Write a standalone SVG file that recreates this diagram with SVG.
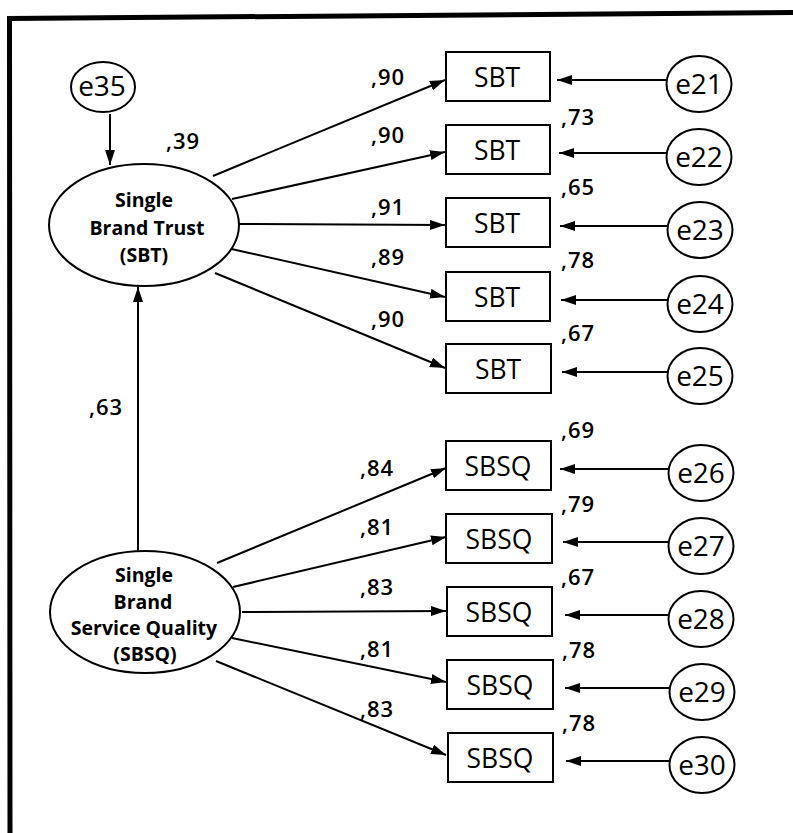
<svg xmlns="http://www.w3.org/2000/svg" width="793" height="833" viewBox="0 0 793 833">
<style>
text{font-family:"Open Sans","Noto Sans","DejaVu Sans",sans-serif;fill:#000}
.box{fill:#fff;stroke:#000;stroke-width:2}
.el{fill:#fff;stroke:#000;stroke-width:2}
.bt{font-size:26.5px;text-anchor:middle}
.et{font-size:28px;text-anchor:middle}
.lt{font-size:19.5px;font-weight:bold;text-anchor:middle}
.cf{font-size:22px;font-weight:600;letter-spacing:1px}
.ln{stroke:#000;stroke-width:2;fill:none;marker-end:url(#ah)}
.frame{stroke:#000;stroke-width:5;fill:none}
</style>
<defs>
<marker id="ah" markerUnits="userSpaceOnUse" markerWidth="16" markerHeight="11" refX="15" refY="5" orient="auto">
<path d="M0,0 L15,5 L0,10 Z" fill="#000"/>
</marker>
</defs>
<rect width="793" height="833" fill="#fff"/>
<g id="frame">
<path class="frame" d="M10,833 L9.5,18.5 L793,12.5"/>
</g>
<g id="connectors">
<line class="ln" x1="110" y1="114" x2="110" y2="165"/>
<line class="ln" x1="138" y1="552" x2="138" y2="287"/>
<line class="ln" x1="213" y1="176" x2="445" y2="80"/>
<line class="ln" x1="232" y1="199" x2="445" y2="152"/>
<line class="ln" x1="239" y1="224" x2="445" y2="225"/>
<line class="ln" x1="227" y1="248" x2="445" y2="297"/>
<line class="ln" x1="215" y1="273" x2="445" y2="368"/>
<line class="ln" x1="217" y1="563" x2="446" y2="468"/>
<line class="ln" x1="233" y1="587" x2="446" y2="537"/>
<line class="ln" x1="242" y1="612" x2="446" y2="611"/>
<line class="ln" x1="232" y1="638" x2="446" y2="682"/>
<line class="ln" x1="216" y1="661" x2="446" y2="755"/>
<line class="ln" x1="667" y1="80" x2="557" y2="80"/>
<line class="ln" x1="667" y1="153" x2="559" y2="153"/>
<line class="ln" x1="668" y1="226" x2="560" y2="226"/>
<line class="ln" x1="668" y1="300" x2="561" y2="300"/>
<line class="ln" x1="668" y1="372" x2="562" y2="372"/>
<line class="ln" x1="669" y1="469" x2="560" y2="469"/>
<line class="ln" x1="669" y1="542" x2="563" y2="542"/>
<line class="ln" x1="669" y1="615" x2="565" y2="615"/>
<line class="ln" x1="670" y1="688" x2="565" y2="688"/>
<line class="ln" x1="670" y1="761" x2="566" y2="761"/>
</g>
<g id="e35"><ellipse class="el" cx="103" cy="87" rx="32" ry="25"/><text class="et" x="102" y="96">e35</text></g>
<g id="SBT_latent">
<ellipse class="el" cx="144" cy="225" rx="95" ry="61"/>
<text class="lt" x="144" y="207">Single</text>
<text class="lt" x="147" y="235">Brand Trust</text>
<text class="lt" x="144" y="262">(SBT)</text>
</g>
<g id="SBSQ_latent">
<ellipse class="el" cx="145" cy="612" rx="95" ry="61"/>
<text class="lt" x="144" y="582">Single</text>
<text class="lt" x="143" y="609">Brand</text>
<text class="lt" x="144" y="635">Service Quality</text>
<text class="lt" x="145" y="661">(SBSQ)</text>
</g>
<g id="sbt1"><rect class="box" x="446" y="52" width="104" height="49"/><text class="bt" x="497" y="87">SBT</text></g>
<g id="sbt2"><rect class="box" x="446" y="125" width="104" height="49"/><text class="bt" x="497" y="160">SBT</text></g>
<g id="sbt3"><rect class="box" x="446" y="198" width="104" height="49"/><text class="bt" x="497" y="233">SBT</text></g>
<g id="sbt4"><rect class="box" x="446" y="272" width="104" height="49"/><text class="bt" x="497" y="307">SBT</text></g>
<g id="sbt5"><rect class="box" x="446" y="344" width="105" height="49"/><text class="bt" x="498" y="379">SBT</text></g>
<g id="sbsq1"><rect class="box" x="446" y="441" width="105" height="49"/><text class="bt" x="498" y="476">SBSQ</text></g>
<g id="sbsq2"><rect class="box" x="446" y="514" width="106" height="49"/><text class="bt" x="499" y="549">SBSQ</text></g>
<g id="sbsq3"><rect class="box" x="447" y="587" width="105" height="49"/><text class="bt" x="499" y="622">SBSQ</text></g>
<g id="sbsq4"><rect class="box" x="447" y="660" width="106" height="49"/><text class="bt" x="500" y="695">SBSQ</text></g>
<g id="sbsq5"><rect class="box" x="448" y="733" width="105" height="49"/><text class="bt" x="500" y="768">SBSQ</text></g>
<g id="e21"><ellipse class="el" cx="699" cy="84" rx="32.5" ry="28"/><text class="et" x="699" y="93.5">e21</text></g>
<g id="e22"><ellipse class="el" cx="699" cy="157" rx="32.5" ry="28"/><text class="et" x="699" y="166.5">e22</text></g>
<g id="e23"><ellipse class="el" cx="700" cy="230" rx="32.5" ry="28"/><text class="et" x="700" y="239.5">e23</text></g>
<g id="e24"><ellipse class="el" cx="700" cy="304" rx="32.5" ry="28"/><text class="et" x="700" y="313.5">e24</text></g>
<g id="e25"><ellipse class="el" cx="700" cy="376" rx="32.5" ry="28"/><text class="et" x="700" y="385.5">e25</text></g>
<g id="e26"><ellipse class="el" cx="701" cy="473" rx="32.5" ry="28"/><text class="et" x="701" y="482.5">e26</text></g>
<g id="e27"><ellipse class="el" cx="701" cy="546" rx="32.5" ry="28"/><text class="et" x="701" y="555.5">e27</text></g>
<g id="e28"><ellipse class="el" cx="701" cy="619" rx="32.5" ry="28"/><text class="et" x="701" y="628.5">e28</text></g>
<g id="e29"><ellipse class="el" cx="702" cy="692" rx="32.5" ry="28"/><text class="et" x="702" y="701.5">e29</text></g>
<g id="e30"><ellipse class="el" cx="702" cy="765" rx="32.5" ry="28"/><text class="et" x="702" y="774.5">e30</text></g>
<g id="labels">
<text class="cf" x="166" y="149">,39</text>
<text class="cf" x="89" y="415">,63</text>
<text class="cf" x="371" y="85">,90</text>
<text class="cf" x="371" y="143">,90</text>
<text class="cf" x="371" y="215">,91</text>
<text class="cf" x="371" y="265">,89</text>
<text class="cf" x="371" y="327">,90</text>
<text class="cf" x="360" y="476">,84</text>
<text class="cf" x="360" y="535">,81</text>
<text class="cf" x="360" y="595">,83</text>
<text class="cf" x="360" y="657">,81</text>
<text class="cf" x="360" y="717">,83</text>
<text class="cf" x="561" y="125">,73</text>
<text class="cf" x="561" y="195">,65</text>
<text class="cf" x="561" y="268">,78</text>
<text class="cf" x="561" y="341">,67</text>
<text class="cf" x="561" y="438">,69</text>
<text class="cf" x="561" y="512">,79</text>
<text class="cf" x="561" y="585">,67</text>
<text class="cf" x="562" y="658">,78</text>
<text class="cf" x="562" y="731">,78</text>
</g>
</svg>
